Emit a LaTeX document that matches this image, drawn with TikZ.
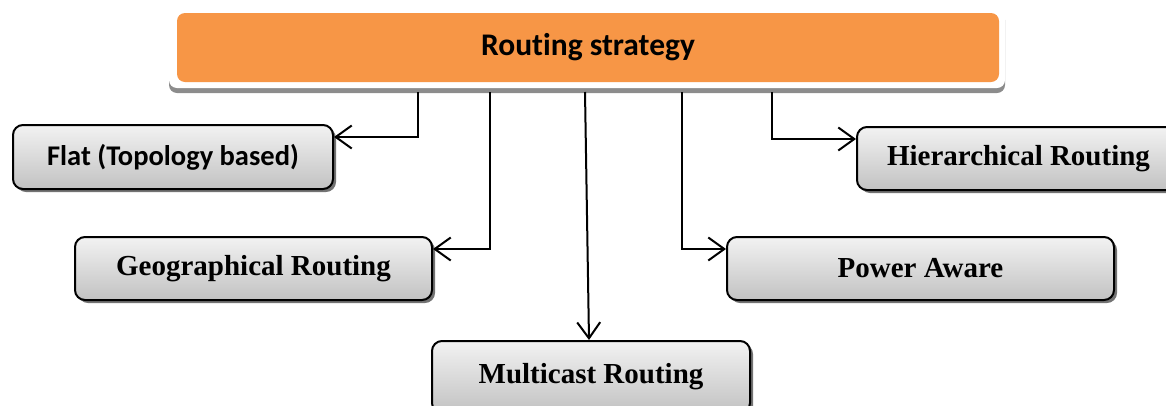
\documentclass[tikz,border=0pt]{standalone}
\usepackage{fontspec}
\setmainfont{Liberation Serif}
\newfontfamily\carlito[Ligatures=NoCommon]{Carlito}
\usetikzlibrary{arrows.meta,shadows,calc}
\definecolor{accorange}{HTML}{F79646}
\begin{document}
\begin{tikzpicture}[x=1pt,y=-1pt,
  frame/.style={rectangle,rounded corners=8pt,fill=white,draw=none,
    drop shadow={shadow xshift=0pt,shadow yshift=-5pt,fill=black!45,opacity=1}},
  rootbox/.style={rectangle,rounded corners=8pt,fill=accorange,draw=none,
    font=\carlito\bfseries\fontsize{31.5}{36}\selectfont},
  leaf/.style={rectangle,rounded corners=10pt,draw=black,line width=2pt,
    top color=black!5,bottom color=black!24,
    drop shadow={shadow xshift=3pt,shadow yshift=-3pt,fill=black!55,opacity=1},
    font=\bfseries\fontsize{29}{34}\selectfont},
  conn/.style={line width=2pt,draw=black,-{Straight Barb[length=16pt,width=23pt]}}]
\useasboundingbox (0,0) rectangle (1166,405);
\clip (0,0) rectangle (1166,405);

\node[frame,minimum width=836pt,minimum height=81pt] (topframe) at (587,47.5) {};
\node[rootbox,minimum width=822pt,minimum height=69pt] (top) at (588,47.5) {Routing strategy};

\node[leaf,minimum width=320pt,minimum height=64pt,font=\carlito\bfseries\fontsize{28.5}{34}\selectfont] (flat) at (173,157) {Flat (Topology based)};
\node[leaf,minimum width=357pt,minimum height=63pt] (geo) at (253.5,268.5) {Geographical Routing};
\node[leaf,minimum width=318pt,minimum height=72pt] (mc) at (591,377) {\raisebox{4pt}{Multicast Routing}};
\node[leaf,minimum width=387pt,minimum height=63pt] (pow) at (920.5,268.5) {Power Aware};
\node[leaf,minimum width=323pt,minimum height=63pt] (hier) at (1018.5,158.5) {Hierarchical Routing};

\coordinate (s1) at (418,92);
\coordinate (s2) at (490,92);
\coordinate (s3) at (585,92);
\coordinate (s4) at (682,92);
\coordinate (s5) at (772,92);

\draw[conn] (s1) |- ($(flat.north east)+(0,13)$);
\draw[conn] (s2) |- ($(geo.north east)+(0,13)$);
\draw[conn] (s3) -- ($(mc.north)+(-2,0)$);
\draw[conn] (s4) |- ($(pow.north west)+(0,13)$);
\draw[conn] (s5) |- ($(hier.north west)+(0,13)$);
\end{tikzpicture}
\end{document}
